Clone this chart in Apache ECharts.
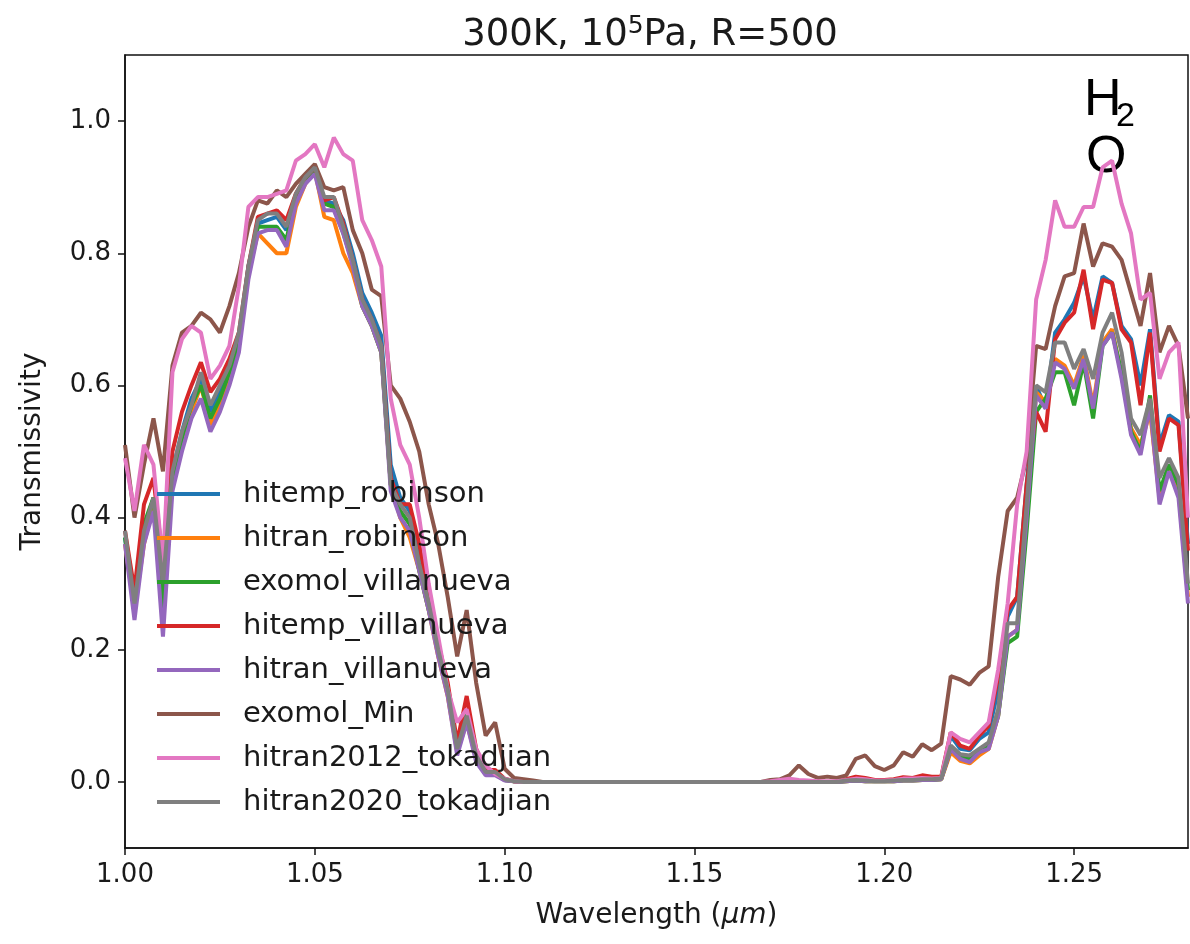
<!DOCTYPE html>
<html><head><meta charset="utf-8">
<script src="https://cdn.jsdelivr.net/npm/echarts@6/dist/echarts.min.js"></script>
<style>html,body{margin:0;padding:0;background:#fff}#c{width:1190px;height:944px}</style>
</head><body><div id="c"></div>
<script>
// Wavelength grid (µm)
const wavelengths = [
1.0000,1.0025,1.0050,1.0075,1.0100,1.0125,1.0150,1.0175,1.0200,1.0225,
1.0250,1.0275,1.0300,1.0325,1.0350,1.0375,1.0400,1.0425,1.0450,1.0475,
1.0500,1.0525,1.0550,1.0575,1.0600,1.0625,1.0650,1.0675,1.0700,1.0725,
1.0750,1.0775,1.0800,1.0825,1.0850,1.0875,1.0900,1.0925,1.0950,1.0975,
1.1000,1.1025,1.1050,1.1075,1.1100,1.1125,1.1150,1.1175,1.1200,1.1225,
1.1250,1.1275,1.1300,1.1325,1.1350,1.1375,1.1400,1.1425,1.1450,1.1475,
1.1500,1.1525,1.1550,1.1575,1.1600,1.1625,1.1650,1.1675,1.1700,1.1725,
1.1750,1.1775,1.1800,1.1825,1.1850,1.1875,1.1900,1.1925,1.1950,1.1975,
1.2000,1.2025,1.2050,1.2075,1.2100,1.2125,1.2150,1.2175,1.2200,1.2225,
1.2250,1.2275,1.2300,1.2325,1.2350,1.2375,1.2400,1.2425,1.2450,1.2475,
1.2500,1.2525,1.2550,1.2575,1.2600,1.2625,1.2650,1.2675,1.2700,1.2725,
1.2750,1.2775,1.2800];

const hitemp_robinson = [
0.37,0.26,0.37,0.43,0.28,0.47,0.53,0.58,0.61,0.56,
0.59,0.62,0.67,0.78,0.845,0.85,0.855,0.835,0.885,0.91,
0.925,0.88,0.875,0.85,0.80,0.74,0.71,0.675,0.48,0.43,
0.41,0.34,0.27,0.20,0.14,0.05,0.095,0.035,0.012,0.012,
0.003,0.001,0,0,0,0,0,0,0,0,
0,0,0,0,0,0,0,0,0,0,
0,0,0,0,0,0,0,0,0,0,
0,0,0,0,0,0,0.003,0.004,0.003,0.002,
0.002,0.003,0.004,0.004,0.006,0.005,0.006,0.07,0.05,0.048,
0.065,0.075,0.14,0.25,0.28,0.45,0.60,0.565,0.68,0.70,
0.725,0.765,0.70,0.765,0.755,0.69,0.67,0.60,0.685,0.51,
0.555,0.545,0.36];

const hitran_robinson = [
0.36,0.26,0.36,0.42,0.27,0.46,0.52,0.56,0.60,0.54,
0.57,0.61,0.66,0.77,0.83,0.815,0.80,0.80,0.87,0.905,
0.925,0.855,0.85,0.80,0.77,0.72,0.69,0.65,0.45,0.40,
0.37,0.32,0.26,0.19,0.13,0.045,0.09,0.035,0.012,0.012,
0.003,0.001,0,0,0,0,0,0,0,0,
0,0,0,0,0,0,0,0,0,0,
0,0,0,0,0,0,0,0,0,0,
0,0,0,0,0,0,0.001,0.002,0.001,0.001,
0.001,0.001,0.002,0.002,0.003,0.003,0.004,0.045,0.032,0.028,
0.04,0.05,0.10,0.22,0.23,0.40,0.59,0.575,0.64,0.63,
0.60,0.645,0.57,0.665,0.685,0.615,0.535,0.51,0.56,0.43,
0.48,0.44,0.28];

const exomol_villanueva = [
0.37,0.27,0.39,0.43,0.26,0.46,0.52,0.57,0.60,0.55,
0.58,0.62,0.66,0.77,0.84,0.84,0.84,0.82,0.885,0.91,
0.925,0.875,0.87,0.83,0.785,0.72,0.69,0.65,0.45,0.41,
0.39,0.32,0.26,0.20,0.14,0.05,0.11,0.04,0.013,0.013,
0.003,0.001,0,0,0,0,0,0,0,0,
0,0,0,0,0,0,0,0,0,0,
0,0,0,0,0,0,0,0,0,0,
0,0,0,0,0,0,0.001,0.002,0.001,0.001,
0.001,0.001,0.002,0.002,0.003,0.003,0.004,0.05,0.04,0.035,
0.045,0.055,0.10,0.21,0.22,0.38,0.56,0.58,0.62,0.62,
0.57,0.635,0.55,0.66,0.68,0.62,0.53,0.50,0.585,0.44,
0.48,0.45,0.29];

const hitemp_villanueva = [
0.38,0.29,0.42,0.46,0.33,0.50,0.56,0.60,0.635,0.59,
0.61,0.64,0.68,0.78,0.855,0.86,0.865,0.85,0.89,0.915,
0.93,0.88,0.885,0.845,0.79,0.73,0.70,0.66,0.46,0.42,
0.42,0.36,0.28,0.21,0.15,0.06,0.13,0.05,0.018,0.018,
0.005,0.001,0,0,0,0,0,0,0,0,
0,0,0,0,0,0,0,0,0,0,
0,0,0,0,0,0,0,0,0,0,
0,0,0,0,0,0,0.004,0.008,0.006,0.003,
0.003,0.004,0.007,0.006,0.01,0.008,0.008,0.075,0.055,0.05,
0.07,0.085,0.16,0.26,0.28,0.45,0.56,0.53,0.67,0.695,
0.71,0.775,0.685,0.76,0.755,0.685,0.665,0.57,0.68,0.50,
0.55,0.54,0.35];

const hitran_villanueva = [
0.36,0.245,0.36,0.41,0.22,0.44,0.50,0.55,0.58,0.53,
0.56,0.60,0.65,0.76,0.83,0.835,0.835,0.81,0.875,0.905,
0.92,0.865,0.865,0.83,0.78,0.72,0.69,0.65,0.44,0.40,
0.38,0.32,0.26,0.19,0.13,0.04,0.09,0.03,0.01,0.01,
0.002,0.001,0,0,0,0,0,0,0,0,
0,0,0,0,0,0,0,0,0,0,
0,0,0,0,0,0,0,0,0,0,
0,0,0,0,0,0,0.001,0.002,0.001,0.001,
0.001,0.001,0.002,0.002,0.003,0.003,0.004,0.05,0.035,0.03,
0.045,0.05,0.10,0.22,0.23,0.40,0.585,0.565,0.635,0.625,
0.595,0.64,0.565,0.66,0.68,0.61,0.525,0.495,0.57,0.42,
0.47,0.43,0.27];

const exomol_Min = [
0.51,0.40,0.48,0.55,0.47,0.63,0.68,0.69,0.71,0.70,
0.68,0.72,0.77,0.84,0.88,0.875,0.895,0.885,0.905,0.92,
0.935,0.90,0.895,0.90,0.835,0.80,0.745,0.735,0.60,0.58,
0.545,0.50,0.42,0.36,0.28,0.19,0.26,0.15,0.07,0.09,
0.02,0.006,0.004,0.002,0,0,0,0,0,0,
0,0,0,0,0,0,0,0,0,0,
0,0,0,0,0,0,0,0,0.003,0.004,
0.01,0.025,0.012,0.006,0.008,0.006,0.01,0.035,0.04,0.024,
0.018,0.025,0.045,0.038,0.057,0.048,0.058,0.16,0.155,0.147,
0.165,0.175,0.31,0.41,0.43,0.49,0.66,0.655,0.72,0.765,
0.77,0.845,0.78,0.815,0.81,0.79,0.74,0.69,0.77,0.65,
0.69,0.66,0.55];

const hitran2012_tokadjian = [
0.49,0.41,0.51,0.48,0.33,0.62,0.67,0.69,0.68,0.61,
0.63,0.66,0.75,0.87,0.885,0.885,0.89,0.895,0.94,0.95,
0.965,0.93,0.975,0.95,0.94,0.85,0.82,0.78,0.58,0.51,
0.48,0.40,0.30,0.22,0.14,0.09,0.11,0.05,0.025,0.012,
0.005,0.001,0,0,0,0,0,0,0,0,
0,0,0,0,0,0,0,0,0,0,
0,0,0,0,0,0,0,0,0.001,0.003,
0.005,0.003,0.002,0.001,0.001,0.001,0.003,0.005,0.004,0.002,
0.002,0.003,0.005,0.005,0.006,0.005,0.006,0.075,0.065,0.06,
0.075,0.09,0.17,0.27,0.42,0.50,0.73,0.79,0.88,0.84,
0.84,0.87,0.87,0.93,0.94,0.875,0.83,0.73,0.74,0.61,
0.65,0.665,0.40];

const hitran2020_tokadjian = [
0.38,0.27,0.38,0.43,0.30,0.47,0.53,0.57,0.62,0.57,
0.60,0.63,0.68,0.78,0.85,0.86,0.86,0.84,0.89,0.915,
0.93,0.885,0.885,0.84,0.79,0.73,0.70,0.66,0.45,0.42,
0.40,0.33,0.27,0.20,0.14,0.05,0.10,0.04,0.015,0.015,
0.004,0.001,0,0,0,0,0,0,0,0,
0,0,0,0,0,0,0,0,0,0,
0,0,0,0,0,0,0,0,0,0,
0,0,0,0,0,0,0.002,0.003,0.002,0.001,
0.001,0.002,0.003,0.003,0.004,0.004,0.005,0.055,0.042,0.04,
0.05,0.06,0.11,0.24,0.24,0.42,0.60,0.59,0.665,0.665,
0.625,0.655,0.61,0.68,0.71,0.65,0.55,0.525,0.58,0.46,
0.49,0.46,0.30];

const seriesNames = ['hitemp_robinson','hitran_robinson','exomol_villanueva','hitemp_villanueva',
  'hitran_villanueva','exomol_Min','hitran2012_tokadjian','hitran2020_tokadjian'];
const seriesValues = [hitemp_robinson,hitran_robinson,exomol_villanueva,hitemp_villanueva,
  hitran_villanueva,exomol_Min,hitran2012_tokadjian,hitran2020_tokadjian];
const colors = ['#1f77b4','#ff7f0e','#2ca02c','#d62728','#9467bd','#8c564b','#e377c2','#7f7f7f'];
const xTicks = [1.00,1.05,1.10,1.15,1.20,1.25];
const yTicks = [0.0,0.2,0.4,0.6,0.8,1.0];

const FONT = 'DejaVu Sans';
const chart = echarts.init(document.getElementById('c'), null, {renderer:'canvas'});
chart.setOption({
  animation:false,
  backgroundColor:'#fff',
  color: colors,
  title:{
    text:'300K, 10{sup|5}Pa, R=500',
    left:645, top:9, textAlign:'center',
    textStyle:{fontFamily:FONT,fontSize:37,fontWeight:'normal',color:'#1a1a1a',
      rich:{sup:{fontFamily:FONT,fontSize:25,verticalAlign:'top',padding:[0,0,17,0],color:'#1a1a1a'}}}
  },
  grid:{left:125,right:2,top:55,bottom:96,show:true,borderColor:'#111',borderWidth:1.5,backgroundColor:'transparent'},
  legend:{
    orient:'vertical', left:152, top:472, itemWidth:63, itemHeight:4, itemGap:10,
    icon:'rect',
    data: seriesNames,
    textStyle:{fontFamily:FONT,fontSize:29,color:'#1a1a1a',lineHeight:34,padding:[0,0,0,18]}
  },
  xAxis:{
    type:'value', min:1.0, max:1.28,
    name:'Wavelength ({it|μm})', nameLocation:'middle', nameGap:54,
    nameTextStyle:{fontFamily:FONT,fontSize:28,color:'#1a1a1a',
      rich:{it:{fontFamily:FONT,fontSize:28,fontStyle:'italic',color:'#1a1a1a'}}},
    axisLine:{show:true,onZero:false,lineStyle:{color:'#111',width:1.5}},
    axisTick:{show:true,length:7,lineStyle:{color:'#111',width:1.5},customValues:xTicks},
    axisLabel:{fontFamily:FONT,fontSize:26,color:'#1a1a1a',margin:14,customValues:xTicks,
      formatter:v=>Number(v).toFixed(2)},
    splitLine:{show:false}
  },
  yAxis:{
    type:'value', min:-0.1, max:1.1,
    name:'Transmissivity', nameLocation:'middle', nameGap:78, nameRotate:90,
    nameTextStyle:{fontFamily:FONT,fontSize:28,color:'#1a1a1a'},
    axisLine:{show:true,onZero:false,lineStyle:{color:'#111',width:1.5}},
    axisTick:{show:true,length:7,lineStyle:{color:'#111',width:1.5},customValues:yTicks},
    axisLabel:{fontFamily:FONT,fontSize:26,color:'#1a1a1a',margin:14,customValues:yTicks,
      formatter:v=>Number(v).toFixed(1)},
    splitLine:{show:false}
  },
  graphic:[
    {type:'text',left:1084,top:75,style:{text:'H',font:'52px "Liberation Sans"',fill:'#000'}},
    {type:'text',left:1116,top:100,style:{text:'2',font:'34px "Liberation Sans"',fill:'#000'}},
    {type:'text',left:1086,top:132,style:{text:'O',font:'52px "Liberation Sans"',fill:'#000'}}
  ],
  series: seriesNames.map((n,k)=>({
    name:n, type:'line', showSymbol:false, symbol:'none',
    lineStyle:{width:4,color:colors[k]},
    itemStyle:{color:colors[k]},
    data: wavelengths.map((w,i)=>[w, seriesValues[k][i]])
  }))
});
</script></body></html>
